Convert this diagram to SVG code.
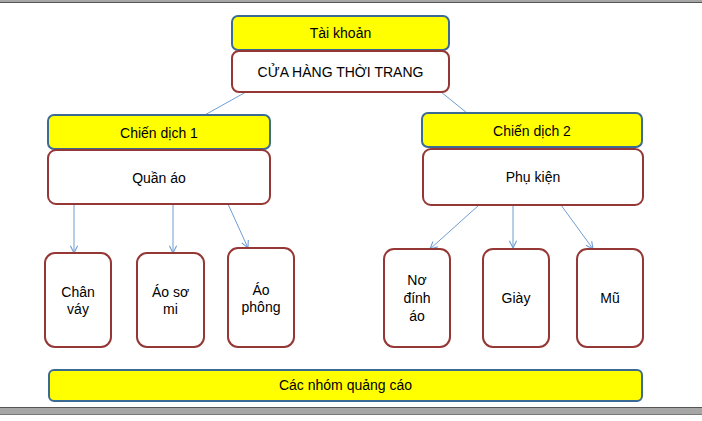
<svg xmlns="http://www.w3.org/2000/svg" width="702" height="421" viewBox="0 0 702 421">
<defs>
<style>
text{font-family:"Liberation Sans",Arial,sans-serif;font-size:14px;fill:#000;text-anchor:middle}
.y{fill:#ffff00;stroke:#3b6a95;stroke-width:2}
.w{fill:#fff;stroke:#953735;stroke-width:2}
.c{stroke:#6f9dd0;stroke-width:1;fill:none}
.a{marker-end:url(#ah)}
</style>
<marker id="ah" viewBox="0 0 10 10" refX="9" refY="5" markerWidth="9" markerHeight="9" orient="auto" markerUnits="userSpaceOnUse">
<path d="M1,1 L9,5 L1,9" fill="none" stroke="#6f9dd0" stroke-width="1.2"/>
</marker>
</defs>
<rect x="0" y="0" width="702" height="421" fill="#fff"/>
<rect x="0" y="0" width="702" height="2" fill="#a6a6a6"/>
<line x1="0" y1="2.5" x2="702" y2="2.5" stroke="#555" stroke-width="1"/>
<rect x="0" y="407" width="702" height="8" fill="#a6a6a6"/>
<line x1="0" y1="407.5" x2="702" y2="407.5" stroke="#555" stroke-width="1"/>
<line x1="0" y1="414.5" x2="702" y2="414.5" stroke="#777" stroke-width="1"/>
<g id="connectors">
<line class="c" x1="271" y1="78" x2="203" y2="116"/>
<line class="c" x1="425" y1="79" x2="467" y2="113"/>
<line class="c a" x1="74" y1="205" x2="74" y2="253"/>
<line class="c a" x1="173" y1="205" x2="173" y2="253"/>
<line class="c a" x1="228" y1="204" x2="248" y2="248"/>
<line class="c a" x1="479" y1="205" x2="430" y2="249"/>
<line class="c a" x1="513" y1="205" x2="513" y2="248"/>
<line class="c a" x1="561" y1="205" x2="593" y2="249"/>
</g>
<g id="tai-khoan"><rect class="y" x="232" y="16" width="217" height="34" rx="6"/><text x="340.5" y="38">Tài khoản</text></g>
<g id="cua-hang"><rect class="w" x="232" y="51" width="217" height="41" rx="7"/><text x="340.5" y="77">CỬA HÀNG THỜI TRANG</text></g>
<g id="chien-dich-1"><rect class="y" x="48" y="115" width="222" height="34" rx="6"/><text x="159" y="138">Chiến dịch 1</text></g>
<g id="quan-ao"><rect class="w" x="48" y="150" width="222" height="54" rx="8"/><text x="159" y="183">Quần áo</text></g>
<g id="chien-dich-2"><rect class="y" x="422" y="113" width="220" height="34" rx="6"/><text x="532" y="136">Chiến dịch 2</text></g>
<g id="phu-kien"><rect class="w" x="423" y="149" width="220" height="56" rx="8"/><text x="533" y="182">Phụ kiện</text></g>
<g id="chan-vay"><rect class="w" x="45" y="253" width="66" height="94" rx="10"/><text x="78" y="297">Chân</text><text x="78" y="314">váy</text></g>
<g id="ao-so-mi"><rect class="w" x="137" y="253" width="67" height="94" rx="10"/><text x="170.5" y="297">Áo sơ</text><text x="170.5" y="314">mi</text></g>
<g id="ao-phong"><rect class="w" x="228" y="248" width="66" height="99" rx="10"/><text x="261" y="295">Áo</text><text x="261" y="312">phông</text></g>
<g id="no-dinh-ao"><rect class="w" x="384" y="249" width="66" height="98" rx="10"/><text x="417" y="285">Nơ</text><text x="417" y="303">đính</text><text x="417" y="321">áo</text></g>
<g id="giay"><rect class="w" x="483" y="249" width="66" height="98" rx="10"/><text x="516" y="303">Giày</text></g>
<g id="mu"><rect class="w" x="577" y="249" width="66" height="98" rx="10"/><text x="610" y="303">Mũ</text></g>
<g id="cac-nhom"><rect class="y" x="49" y="370" width="593" height="31" rx="5"/><text x="345.5" y="390">Các nhóm quảng cáo</text></g>
</svg>
